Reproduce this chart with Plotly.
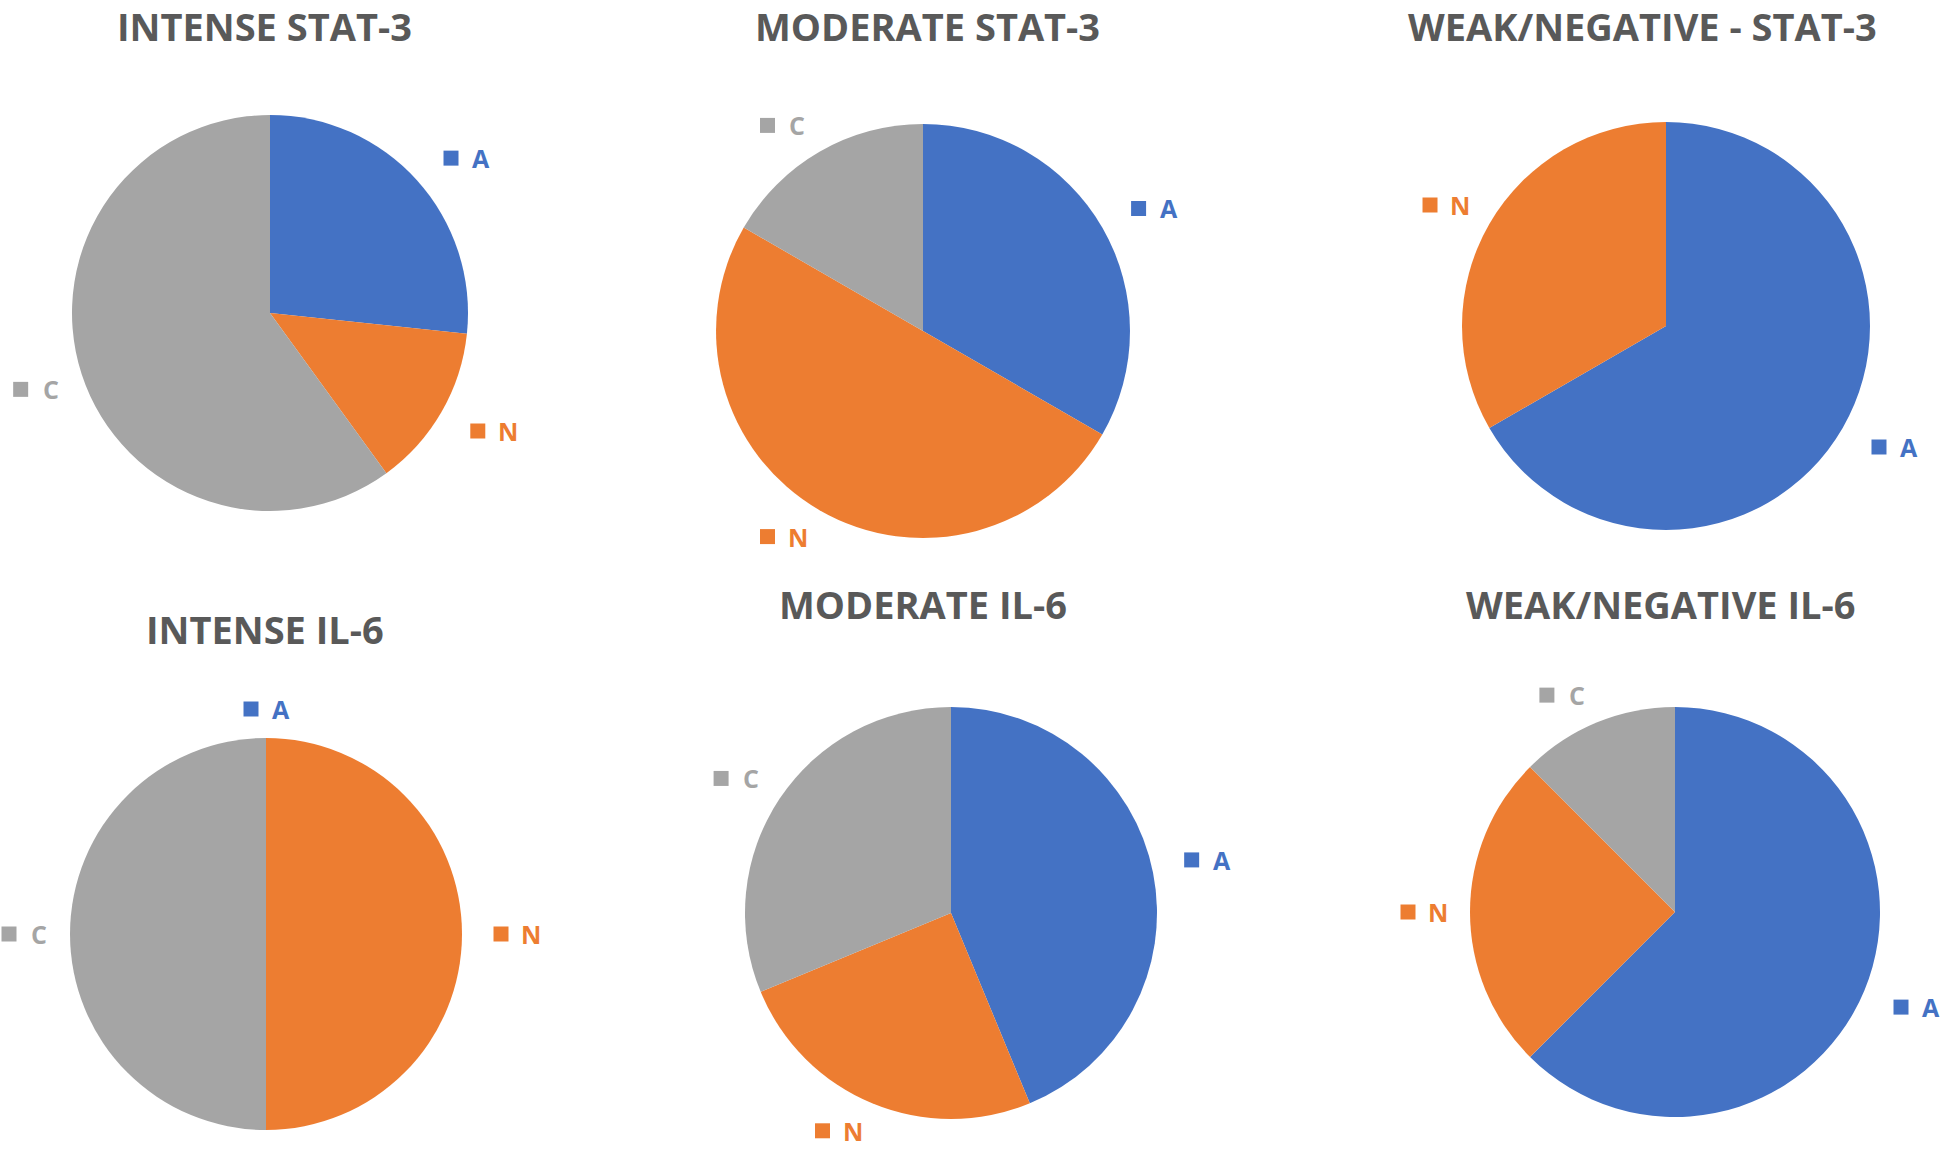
import math
import plotly.graph_objects as go

# ---------------- data ----------------
categories = ["A", "N", "C"]
titles = ["INTENSE STAT-3", "MODERATE STAT-3", "WEAK/NEGATIVE - STAT-3",
          "INTENSE IL-6", "MODERATE IL-6", "WEAK/NEGATIVE IL-6"]
intense_stat3 = [4, 2, 9]
moderate_stat3 = [2, 3, 1]
weak_stat3 = [2, 1, None]
intense_il6 = [0, 1, 1]
moderate_il6 = [7, 4, 5]
weak_il6 = [5, 2, 1]
series = [intense_stat3, moderate_stat3, weak_stat3,
          intense_il6, moderate_il6, weak_il6]

# ---------------- styling / layout ----------------
W, H = 1946, 1149
colors = {"A": "#4472C4", "N": "#ED7D31", "C": "#A5A5A5"}
title_color = "#595959"
FONT = "Open Sans"
# pie centre (px) and radius (px) for each panel
pie_geom = [(270, 313, 198), (923, 331, 207), (1666, 326, 204),
            (266, 934, 196), (951, 913, 206), (1675, 912, 205)]
# title centre positions (px)
title_pos = [(264, 26), (927, 26), (1642, 26),
             (265, 629), (923, 604), (1661, 604)]
GAP = 20                     # gap between rim and label box
HW_RIGHT, HW_LEFT, HH = 34, 27, 9
LABEL_MARGIN = 17


def px2paper(x, y):
    return x / W, 1 - y / H


def sgn(v):
    return 0 if abs(v) < 1e-9 else (1 if v > 0 else -1)


fig = go.Figure()
annotations = []
shapes = []

for i, vals in enumerate(series):
    cx, cy, r = pie_geom[i]
    labs = [c for c, v in zip(categories, vals) if v is not None]
    vv = [v for v in vals if v is not None]
    fig.add_trace(go.Pie(
        labels=labs, values=vv, sort=False, direction="clockwise", rotation=0,
        marker=dict(colors=[colors[c] for c in labs], line=dict(width=0)),
        textinfo="none", hoverinfo="label+value+percent", showlegend=False,
        domain=dict(x=[(cx - r) / W, (cx + r) / W],
                    y=[1 - (cy + r) / H, 1 - (cy - r) / H]),
    ))
    total = sum(vv)
    cum = 0
    for c, v in zip(labs, vv):
        mid = (cum + v / 2) / total * 2 * math.pi
        cum += v
        ux, uy = math.sin(mid), -math.cos(mid)
        hw = HW_RIGHT if ux > 0 else HW_LEFT
        lx = cx + (r + GAP) * ux + hw * sgn(ux)
        ly = cy + (r + GAP) * uy + HH * sgn(uy)
        ly = min(max(ly, LABEL_MARGIN), H - LABEL_MARGIN)
        lx = min(max(lx, 24), W - 30)
        sx, sy = px2paper(lx - 15, ly)
        shapes.append(dict(type="rect", xref="paper", yref="paper",
                           xsizemode="pixel", ysizemode="pixel",
                           xanchor=sx, yanchor=sy, x0=-7.5, x1=7.5, y0=-7.5, y1=7.5,
                           fillcolor=colors[c], line=dict(width=0)))
        tx, ty = px2paper(lx + 15, ly)
        annotations.append(dict(x=tx, y=ty, xref="paper", yref="paper",
                                text=f"<b>{c}</b>", showarrow=False,
                                xanchor="center", yanchor="middle",
                                font=dict(family=FONT, size=25, color=colors[c])))
    tx, ty = px2paper(*title_pos[i])
    annotations.append(dict(x=tx, y=ty, xref="paper", yref="paper",
                            text=f"<b>{titles[i]}</b>", showarrow=False,
                            xanchor="center", yanchor="middle",
                            font=dict(family=FONT, size=38, color=title_color)))

fig.update_layout(width=W, height=H, margin=dict(l=0, r=0, t=0, b=0),
                  paper_bgcolor="white", plot_bgcolor="white",
                  annotations=annotations, shapes=shapes)
fig.write_html("out.html", config={"displayModeBar": False},
               post_script="document.body.style.margin='0';document.body.style.padding='0';")
